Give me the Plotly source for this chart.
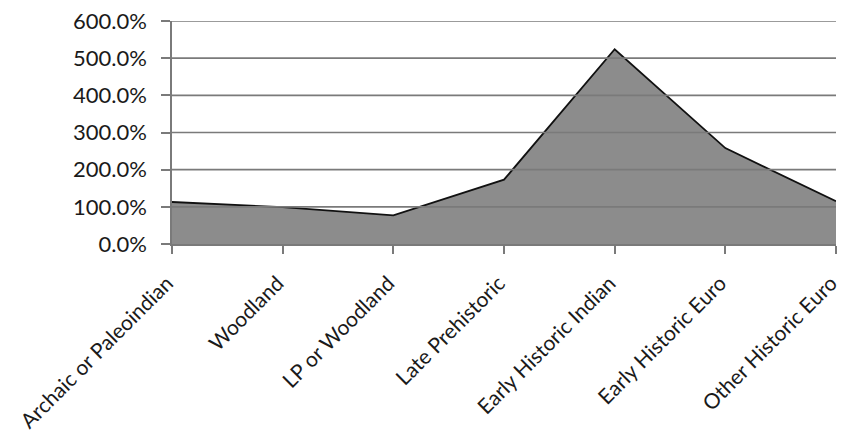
import plotly.graph_objects as go

# Ratio by cultural period (percent)
periods = [
    "Archaic or Paleoindian",
    "Woodland",
    "LP or Woodland",
    "Late Prehistoric",
    "Early Historic Indian",
    "Early Historic Euro",
    "Other Historic Euro",
]
ratio_pct = [113, 99, 77, 173, 524, 258, 115]
y_ticks = [0, 100, 200, 300, 400, 500, 600]
y_tick_labels = [f"{v:.1f}%" for v in y_ticks]

fig = go.Figure()
fig.add_trace(go.Scatter(
    x=periods,
    y=ratio_pct,
    mode="lines",
    fill="tozeroy",
    fillcolor="#8c8c8c",
    line=dict(color="#111111", width=1.8),
    showlegend=False,
    hoverinfo="skip",
))

# Horizontal gridlines drawn over the filled area
for v in y_ticks[1:]:
    fig.add_shape(
        type="line", xref="paper", yref="y",
        x0=0, x1=1, y0=v, y1=v,
        line=dict(color="#7a7a7a", width=1.6),
        layer="above",
    )

fig.update_layout(
    width=842, height=439,
    margin=dict(l=172, r=6, t=21, b=195, autoexpand=False),
    paper_bgcolor="white",
    plot_bgcolor="white",
    font=dict(family="Lato, Open Sans, sans-serif", color="#1a1a1a"),
)
fig.update_xaxes(
    type="category",
    range=[0, len(periods) - 1],
    tickangle=-45,
    tickfont=dict(size=21),
    ticks="outside", ticklen=8, tickcolor="#7a7a7a", tickwidth=1.5,
    ticklabelstandoff=9,
    ticklabelshift=-5,
    showline=True, linecolor="#7a7a7a", linewidth=1.6,
    showgrid=False, zeroline=False, automargin=False,
    layer="above traces",
)
fig.update_yaxes(
    range=[0, 600],
    tickvals=y_ticks,
    ticktext=y_tick_labels,
    tickfont=dict(size=22),
    ticks="outside", ticklen=9, tickcolor="#7a7a7a", tickwidth=1.5,
    ticklabelstandoff=10,
    showline=True, linecolor="#7a7a7a", linewidth=1.6,
    showgrid=False, zeroline=False, automargin=False,
    layer="above traces",
)

fig.write_html("out.html")
